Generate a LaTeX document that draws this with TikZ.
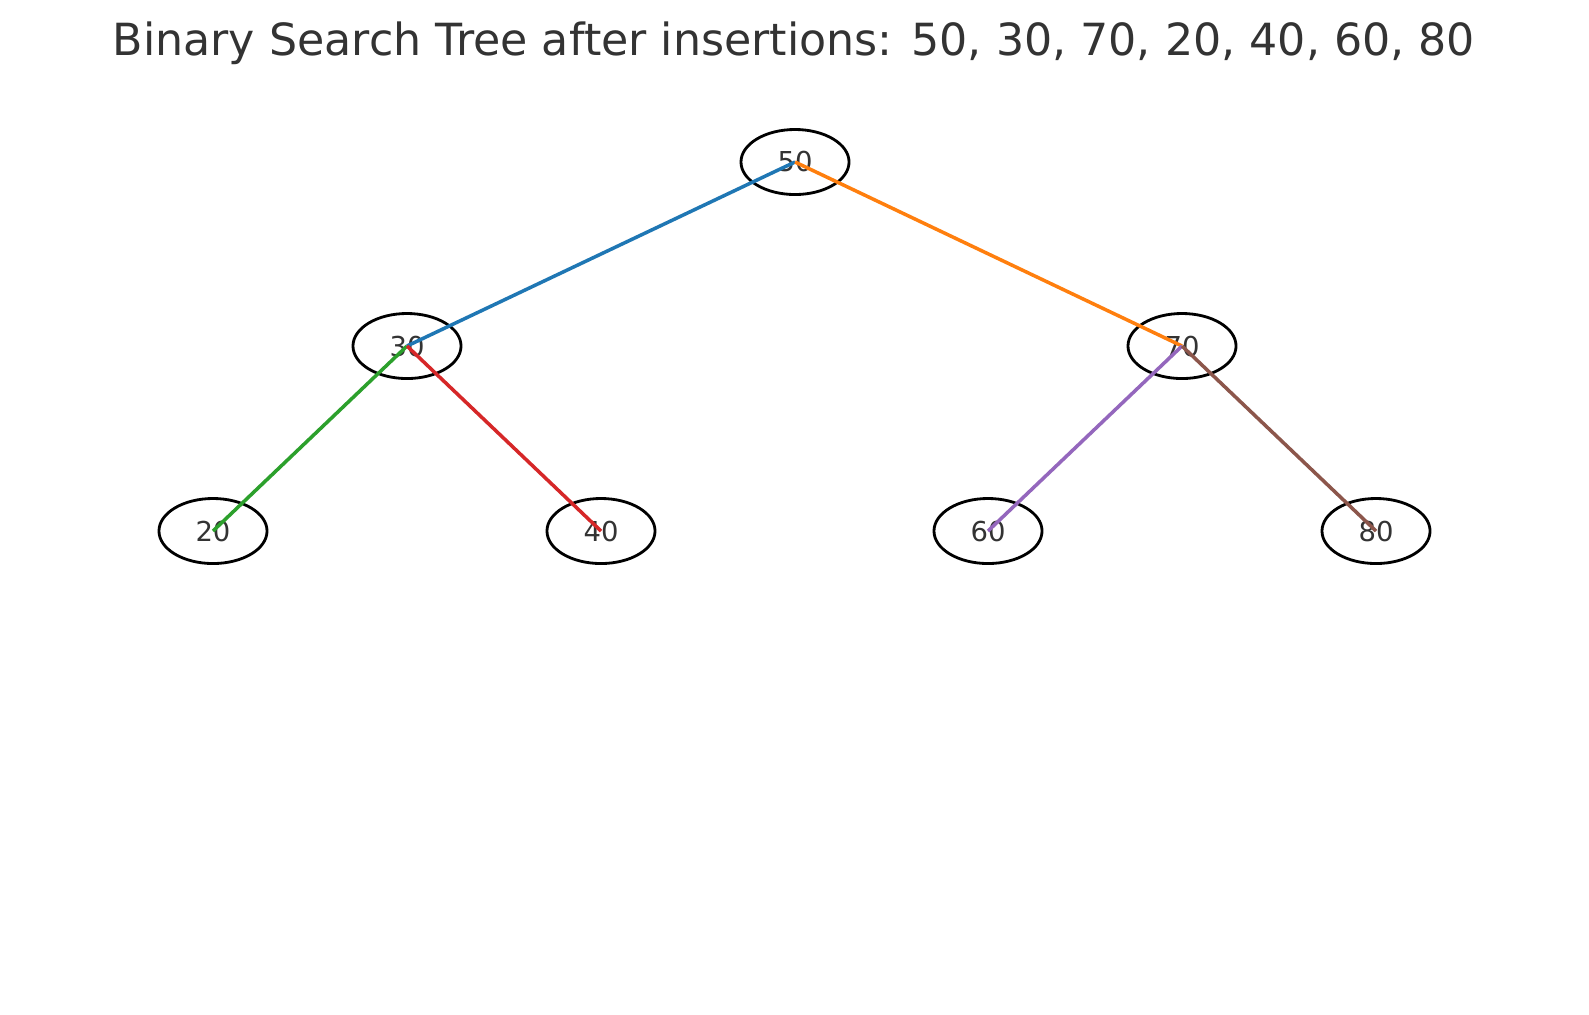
\documentclass[tikz,border=0pt]{standalone}
\usepackage{fontspec}
\setmainfont{DejaVu Sans}
\usetikzlibrary{shapes.geometric}
\definecolor{txt}{HTML}{333333}
\definecolor{cA}{HTML}{1F77B4}
\definecolor{cB}{HTML}{FF7F0E}
\definecolor{cC}{HTML}{2CA02C}
\definecolor{cD}{HTML}{D62728}
\definecolor{cE}{HTML}{9467BD}
\definecolor{cF}{HTML}{8C564B}
\tikzset{
  bst/.style={draw=black, line width=0.8pt, ellipse, minimum width=1.08cm, minimum height=0.65cm, inner sep=0pt, text=txt, font=\fontsize{7.8pt}{9pt}\selectfont},
  edge/.style={line width=1.0pt}
}
\begin{document}
\begin{tikzpicture}[x=0.01cm,y=-0.01cm]
\useasboundingbox[fill=white] (0,0) rectangle (1589,1014);
\node[text=txt, font=\fontsize{12.6pt}{14pt}\selectfont] (title) at (794,43) {Binary Search Tree after insertions: 50, 30, 70, 20, 40, 60, 80};
\node[bst] (n50) at (795,162) {50};
\node[bst] (n30) at (407,346) {30};
\node[bst] (n70) at (1182,346) {70};
\node[bst] (n20) at (213,531) {20};
\node[bst] (n40) at (601,531) {40};
\node[bst] (n60) at (988,531) {60};
\node[bst] (n80) at (1376,531) {80};
\draw[edge, cA] (n50.center) -- (n30.center);
\draw[edge, cB] (n50.center) -- (n70.center);
\draw[edge, cC] (n30.center) -- (n20.center);
\draw[edge, cD] (n30.center) -- (n40.center);
\draw[edge, cE] (n70.center) -- (n60.center);
\draw[edge, cF] (n70.center) -- (n80.center);
\end{tikzpicture}
\end{document}
